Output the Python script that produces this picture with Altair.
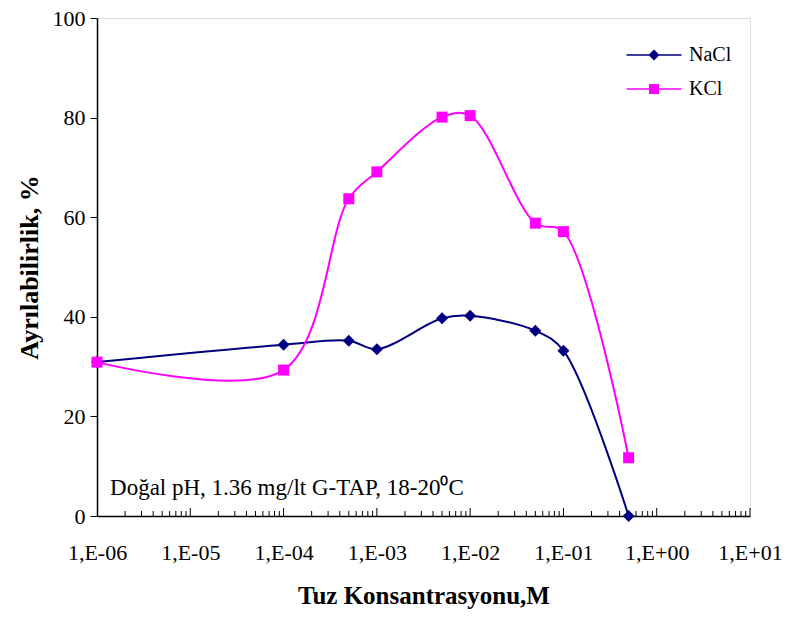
import altair as alt
import pandas as pd

# ---- data ----
conc = [1e-6, 1e-4, 5e-4, 1e-3, 5e-3, 1e-2, 5e-2, 1e-1, 5e-1]
nacl = [30.9, 34.4, 35.2, 33.5, 39.7, 40.2, 37.2, 33.2, 0.0]
kcl = [30.9, 29.3, 63.7, 69.1, 80.1, 80.4, 58.8, 57.1, 11.7]
series = ["NaCl", "KCl"]
colors = ["#000080", "#FF00FF"]
x_tick_values = [1e-6, 1e-5, 1e-4, 1e-3, 1e-2, 1e-1, 1e0, 1e1]
x_tick_labels = ["1,E-06", "1,E-05", "1,E-04", "1,E-03", "1,E-02", "1,E-01", "1,E+00", "1,E+01"]
y_tick_values = [0, 20, 40, 60, 80, 100]
minor_mult = [2, 3, 4, 5, 6, 7, 8, 9]
note_text = "Doğal pH, 1.36 mg/lt G-TAP, 18-20⁰C"
note_pos = {"conc": 1.38e-6, "val": 4.2}

FONT = "Liberation Serif, Times New Roman, serif"

df_nacl = pd.DataFrame({"conc": conc, "val": nacl})
df_kcl = pd.DataFrame({"conc": conc, "val": kcl})
minor_vals = [m * d for d in x_tick_values[:-1] for m in minor_mult]
df_minor = pd.DataFrame({"conc": minor_vals})
df_major = pd.DataFrame({"conc": x_tick_values[1:]})
df_note = pd.DataFrame([{**note_pos, "txt": note_text}])
df_leg = pd.DataFrame({"conc": [1e-6, 1e-6], "val": [0, 0], "series": series})

label_expr = "[" + ",".join("'%s'" % s for s in x_tick_labels) + "][round(log(datum.value)/LN10)+6]"

x_axis = alt.Axis(
    values=x_tick_values, labelExpr=label_expr, ticks=False, grid=False,
    domainColor="black", domainWidth=1.5, labelFont=FONT, labelFontSize=22,
    labelColor="black", labelPadding=26, labelFlush=False, labelOverlap=False,
    title="Tuz Konsantrasyonu,M", titleFont=FONT, titleFontSize=25,
    titleFontWeight="bold", titleColor="black", titlePadding=20,
)
y_axis = alt.Axis(
    values=y_tick_values, tickSize=7, tickColor="black", tickWidth=1, grid=False,
    domainColor="black", domainWidth=1.5, labelFont=FONT, labelFontSize=22,
    labelColor="black", labelPadding=5,
    title="Ayrılabilirlik, %", titleFont=FONT, titleFontSize=26,
    titleFontWeight="bold", titleColor="black", titlePadding=10,
)
X = alt.X("conc:Q", scale=alt.Scale(type="log", domain=[1e-6, 10], nice=False), axis=x_axis)
Y = alt.Y("val:Q", scale=alt.Scale(domain=[0, 100], nice=False), axis=y_axis)

H = 498
minor = alt.Chart(df_minor).mark_rule(color="black", strokeWidth=1).encode(
    x=X, y=alt.value(H), y2=alt.value(H - 5))
major = alt.Chart(df_major).mark_rule(color="black", strokeWidth=1).encode(
    x=X, y=alt.value(H), y2=alt.value(H - 8))

def series_layers(df, color, shape, size):
    line = alt.Chart(df).mark_line(color=color, strokeWidth=2, interpolate="catmull-rom").encode(x=X, y=Y)
    pts = alt.Chart(df).mark_point(color=color, filled=True, opacity=1, shape=shape, size=size).encode(x=X, y=Y)
    return [line, pts]

note = alt.Chart(df_note).mark_text(
    align="left", baseline="alphabetic", font=FONT, fontSize=23, color="black"
).encode(x=X, y=Y, text="txt:N")

diamond_path = "M-5.5,-0.16H5.5V0.16H-5.5Z M0,-1.1L1.1,0L0,1.1L-1.1,0Z"
square_path = "M-5.5,-0.16H5.5V0.16H-5.5Z M-1,-1H1V1H-1Z"
leg = alt.Legend(
    orient="none", legendX=547, legendY=27, title=None, padding=0,
    labelFont=FONT, labelFontSize=20, labelColor="black", labelOffset=25,
    symbolSize=100, symbolStrokeWidth=0, symbolOpacity=1, rowPadding=14,
)
legend_layer = alt.Chart(df_leg).mark_point(filled=True, opacity=0).encode(
    x=X, y=Y,
    color=alt.Color("series:N", scale=alt.Scale(domain=series, range=colors), legend=leg),
    shape=alt.Shape("series:N", scale=alt.Scale(domain=series, range=[diamond_path, square_path]), legend=leg),
)

layers = [minor, major]
layers += series_layers(df_nacl, colors[0], "diamond", 144)
layers += series_layers(df_kcl, colors[1], "square", 121)
layers += [note, legend_layer]

chart = alt.layer(*layers).properties(
    width=653, height=H,
    autosize=alt.AutoSizeParams(type="none"),
    padding={"left": 97, "top": 18, "right": 36, "bottom": 103},
).configure_view(stroke="#808080", strokeWidth=1).configure(background="white")

chart.save("out.html", embed_options={"renderer": "svg", "actions": False})
